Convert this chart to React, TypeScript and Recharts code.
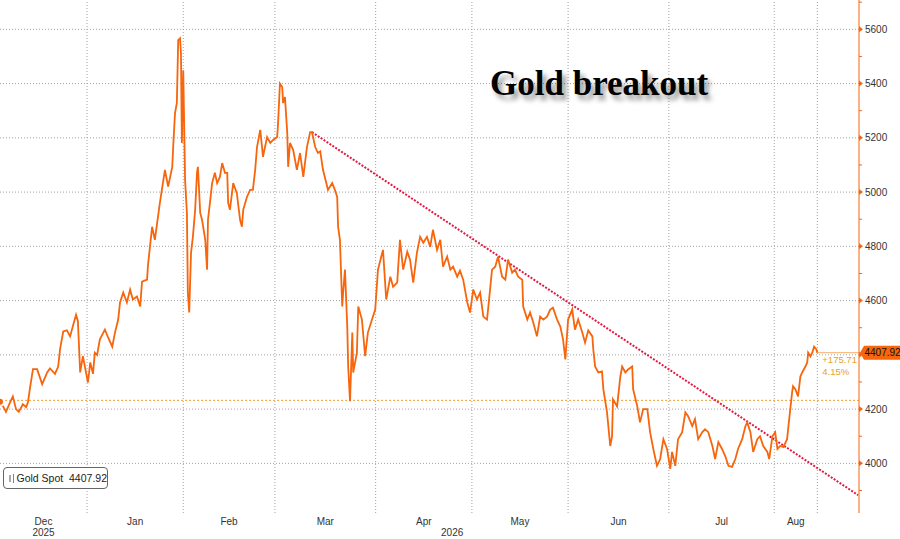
import { LineChart, Line, XAxis, YAxis, ReferenceLine } from "recharts";

// trading-day index from the first session shown (early Dec 2025)
const sessionDay = [
  0.0, 0.7, 1.3, 2.2, 2.8, 3.5, 4.1, 5.0, 5.7, 6.1, 6.6, 7.2, 8.1, 9.2, 10.3, 10.9, 12.0, 12.7, 13.1, 13.8,
  14.6, 15.3, 15.9, 16.6, 17.0, 17.5, 18.1, 18.6, 19.2, 19.7, 20.3, 20.7, 21.2, 21.8, 22.9, 23.6, 24.5, 25.1,
  25.8, 26.2, 26.9, 27.7, 28.4, 29.0, 29.9, 30.6, 31.0, 32.1, 32.3, 33.2, 33.8, 34.9, 36.0, 36.7, 37.6, 37.8,
  38.2, 38.6, 38.9, 39.3, 39.5, 39.7, 40.0, 40.4, 40.8, 41.0, 41.3, 41.7, 42.1, 42.6, 43.0, 43.2, 43.7, 44.1,
  44.8, 45.2, 45.4, 45.9, 46.3, 46.9, 47.4, 48.0, 48.5, 49.1, 49.6, 49.8, 50.2, 50.9, 51.7, 52.4, 52.8, 53.1,
  53.9, 54.6, 55.2, 55.7, 56.1, 56.8, 57.2, 57.4, 58.3, 59.0, 59.6, 60.5, 60.7, 61.1, 61.6, 61.8, 62.2, 62.7,
  62.9, 63.3, 64.0, 64.8, 65.5, 66.2, 67.0, 67.7, 68.1, 68.8, 69.4, 69.9, 70.5, 71.6, 72.5, 73.1, 73.6, 73.8,
  74.2, 74.7, 74.9, 75.3, 75.8, 76.0, 76.4, 76.9, 77.1, 77.9, 78.2, 79.0, 79.7, 80.3, 81.2, 81.9, 82.5, 83.6,
  84.3, 85.2, 85.8, 86.7, 87.3, 88.0, 88.9, 89.5, 90.2, 91.0, 91.7, 92.4, 93.2, 93.9, 94.5, 95.4, 96.1, 96.7,
  97.6, 98.3, 98.9, 99.8, 100.4, 101.1, 102.0, 102.6, 103.3, 104.1, 104.8, 105.5, 106.3, 106.6, 107.4, 108.1,
  108.7, 109.6, 110.3, 110.9, 111.8, 112.4, 113.1, 114.0, 114.2, 115.1, 115.7, 116.4, 117.2, 117.9, 118.6,
  119.4, 120.1, 120.7, 121.6, 122.3, 122.9, 123.4, 124.0, 124.9, 125.5, 126.2, 127.1, 127.7, 128.4, 129.3,
  129.5, 129.9, 130.6, 131.4, 131.7, 132.5, 133.2, 133.6, 133.8, 134.7, 135.4, 135.8, 136.5, 137.1, 138.0,
  138.2, 139.1, 139.7, 140.4, 141.3, 141.9, 142.6, 143.4, 144.1, 144.8, 145.6, 146.3, 146.7, 147.4, 148.0,
  148.9, 149.6, 150.2, 151.1, 151.7, 152.4, 153.3, 153.9, 154.6, 155.5, 156.1, 156.8, 157.6, 158.3, 159.0,
  159.8, 160.5, 161.1, 162.0, 162.7, 163.1, 163.8, 164.4, 165.3, 165.9, 166.6, 167.5, 167.9, 168.6, 169.2,
  169.7, 170.3, 171.0, 171.8, 172.1, 172.5, 172.9, 173.1, 173.6, 174.2, 174.7, 175.1, 175.8, 176.2, 176.4,
  176.9, 177.3, 177.7, 178.2, 178.4,
];

const goldSpot = [
  4227, 4210, 4190, 4225, 4247, 4200, 4190, 4218, 4207, 4225, 4284, 4347, 4347, 4292, 4335, 4350, 4330, 4357, 4420, 4486,
  4490, 4468, 4505, 4548, 4525, 4335, 4395, 4350, 4298, 4372, 4330, 4408, 4400, 4457, 4493, 4464, 4430, 4482,
  4530, 4593, 4630, 4593, 4641, 4604, 4615, 4578, 4670, 4677, 4730, 4872, 4824, 4960, 5082, 5020, 5093, 5166,
  5291, 5328, 5560, 5567, 5512, 5181, 5449, 5044, 4923, 4629, 4556, 4777, 4835, 4935, 5071, 5093, 4923, 4898,
  4824, 4714, 4898, 4971, 5033, 5071, 5033, 5056, 5107, 5071, 5071, 4960, 4935, 5033, 4996, 4898, 4872, 4935,
  4982, 5008, 5008, 5082, 5166, 5229, 5166, 5130, 5203, 5181, 5192, 5203, 5254, 5400, 5387, 5328, 5350, 5218,
  5093, 5181, 5155, 5082, 5144, 5056, 5166, 5221, 5221, 5166, 5144, 5150, 5082, 5008, 5033, 5008, 4982, 4872,
  4824, 4578, 4629, 4714, 4504, 4357, 4229, 4482, 4335, 4408, 4578, 4530, 4395, 4482, 4530, 4567, 4714, 4787,
  4604, 4688, 4651, 4666, 4824, 4714, 4780, 4751, 4666, 4776, 4835, 4813, 4835, 4798, 4861, 4787, 4824, 4725,
  4762, 4714, 4725, 4688, 4710, 4677, 4593, 4556, 4641, 4604, 4629, 4541, 4530, 4578, 4714, 4725,
  4762, 4688, 4677, 4751, 4703, 4714, 4688, 4677, 4578, 4530, 4556, 4519, 4468, 4541, 4530,
  4541, 4567, 4574, 4530, 4504, 4457, 4383, 4530, 4567, 4493, 4530, 4482, 4445, 4490, 4468,
  4420, 4357, 4335, 4339, 4273, 4188, 4064, 4100, 4236, 4210, 4320, 4357, 4335, 4346, 4357,
  4273, 4210, 4151, 4200, 4200, 4115, 4053, 3991, 4016, 4089, 4053, 3980, 4042, 3991, 4089,
  4115, 4188, 4174, 4137, 4163, 4089, 4115, 4126, 4115, 4064, 4016, 4078, 4053, 4027, 3991,
  3987, 4016, 4053, 4089, 4137, 4151, 4115, 4042, 4089, 4100, 4064, 4042, 4016, 4100, 4115,
  4053, 4064, 4060, 4089, 4137, 4200, 4262, 4284, 4273, 4247, 4320, 4335, 4357, 4372, 4408,
  4394, 4408, 4430, 4420, 4407.92,
];

const monthNames = ["Dec", "Jan", "Feb", "Mar", "Apr", "May", "Jun", "Jul", "Aug"];
const monthStartDay = [19, 40, 60, 82, 103, 124, 146, 169];
const priceTicks = [3900, 4000, 4100, 4200, 4300, 4400, 4500, 4600, 4700, 4800, 4900, 5000, 5100, 5200, 5300, 5400, 5500, 5600, 5700];
const gridPrices = [4000, 4200, 4400, 4600, 4800, 5000, 5200, 5400, 5600];

const lastDay = 178.4;
const lastPrice = 4407.92;
const basePrice = 4232.21;
const priceChange = 175.71;
const pctChange = 4.15;
const trendFrom = { day: 68.1, price: 5221 };
const trendTo = { day: 187.3, price: 3883 };

const X_MAX = 187.5;
const Y_MIN = 3817;
const Y_MAX = 5708;

const ORANGE = "#f7650c";
const GRID = "#a3a3a3";

const chartData = sessionDay.map((d, i) => ({ day: d, price: goldSpot[i] }));

const bounds = [0, ...monthStartDay, lastDay];
const monthMid = monthNames.map((_, i) => (bounds[i] + bounds[i + 1]) / 2);
const year2026Mid = (monthStartDay[0] + lastDay) / 2;
const xTicks = [...monthMid, year2026Mid];

// eslint-disable-next-line @typescript-eslint/no-explicit-any
function MonthTick({ x, y, index }: any) {
  const isYear = index >= monthNames.length;
  return (
    <g>
      {!isYear && (
        <text x={x} y={y + 12} textAnchor="middle" fontSize={10} fill="#333">
          {monthNames[index]}
        </text>
      )}
      {(isYear || index === 0) && (
        <text x={x} y={y + 23} textAnchor="middle" fontSize={10} fill="#333">
          {isYear ? "2026" : "2025"}
        </text>
      )}
    </g>
  );
}

// eslint-disable-next-line @typescript-eslint/no-explicit-any
function PriceTick({ x, y, payload }: any) {
  const major = payload.value % 200 === 0;
  if (!major) {
    return <line x1={x} x2={x + 3} y1={y} y2={y} stroke={ORANGE} strokeWidth={1} />;
  }
  // the last-price tag sits over this label
  const hidden = Math.abs(payload.value - lastPrice) < 40;
  return (
    <g>
      <polygon points={`${x},${y - 3} ${x + 4},${y} ${x},${y + 3}`} fill={ORANGE} />
      {!hidden && (
        <text x={x + 6} y={y + 3.5} fontSize={10} fill="#333">
          {payload.value}
        </text>
      )}
    </g>
  );
}

// eslint-disable-next-line @typescript-eslint/no-explicit-any
function LastPriceTag({ viewBox }: any) {
  const x0 = viewBox.x;
  const x1 = viewBox.x + viewBox.width;
  const y = viewBox.y;
  return (
    <g>
      <text x={x0 + 5} y={y + 10} fontSize={9.5} fill="#e8a030">
        +{priceChange}
      </text>
      <text x={x0 + 5} y={y + 22} fontSize={9.5} fill="#e8a030">
        {pctChange}%
      </text>
      <polygon
        points={`${x1 + 1},${y} ${x1 + 5},${y - 7} ${x1 + 41},${y - 7} ${x1 + 41},${y + 7} ${x1 + 5},${y + 7}`}
        fill={ORANGE}
      />
      <text x={x1 + 5.5} y={y + 3.5} fontSize={10} fill="#111">
        {lastPrice}
      </text>
    </g>
  );
}

export default function App() {
  return (
    <div
      style={{
        position: "relative",
        width: 900,
        height: 539,
        overflow: "hidden",
        background: "#fff",
        fontFamily: "'Liberation Sans', Arial, sans-serif",
      }}
    >
      <style>{"html,body{margin:0;padding:0;overflow:hidden;}"}</style>
      <LineChart width={900} height={539} data={chartData} margin={{ top: 0, right: 0, bottom: 0, left: 0 }}>
        <XAxis
          dataKey="day"
          type="number"
          domain={[0, X_MAX]}
          ticks={xTicks}
          interval={0}
          height={26}
          axisLine={false}
          tickLine={false}
          tickSize={0}
          tickMargin={0}
          tick={<MonthTick />}
        />
        <YAxis
          orientation="right"
          type="number"
          domain={[Y_MIN, Y_MAX]}
          ticks={priceTicks}
          interval={0}
          width={41}
          axisLine={{ stroke: ORANGE, strokeWidth: 1 }}
          tickLine={false}
          tickSize={0}
          tickMargin={0}
          tick={<PriceTick />}
        />
        {gridPrices.map((p) => (
          <ReferenceLine key={`h${p}`} y={p} stroke={GRID} strokeDasharray="1 2" />
        ))}
        {[...monthStartDay, lastDay].map((d) => (
          <ReferenceLine key={`v${d}`} x={d} stroke={GRID} strokeDasharray="1 2" />
        ))}
        <ReferenceLine y={basePrice} stroke="#f0a030" strokeDasharray="2 2" />
        <ReferenceLine
          segment={[
            { x: trendFrom.day, y: trendFrom.price },
            { x: trendTo.day, y: trendTo.price },
          ]}
          stroke="#e8173f"
          strokeWidth={2}
          strokeDasharray="2 1.5"
        />
        <ReferenceLine
          segment={[
            { x: lastDay, y: lastPrice },
            { x: X_MAX, y: lastPrice },
          ]}
          stroke="#f5b06a"
          label={<LastPriceTag />}
        />
        <Line
          type="linear"
          dataKey="price"
          stroke={ORANGE}
          strokeWidth={1.8}
          dot={false}
          isAnimationActive={false}
        />
      </LineChart>

      <div
        style={{
          position: "absolute",
          left: 490,
          top: 64,
          fontFamily: "'Liberation Serif', 'Times New Roman', serif",
          fontWeight: "bold",
          fontSize: 35,
          color: "#000",
          textShadow: "4px 5px 5px rgba(0,0,0,0.4)",
          whiteSpace: "nowrap",
        }}
      >
        Gold breakout
      </div>

      <div
        style={{
          position: "absolute",
          left: 3,
          top: 467,
          width: 103,
          height: 20,
          border: "1px solid #666",
          borderRadius: 4,
          background: "#fff",
          display: "flex",
          alignItems: "center",
          fontSize: 10.5,
          color: "#222",
        }}
      >
        <span
          style={{
            display: "inline-block",
            width: 5,
            height: 5,
            border: "1px solid #aaa",
            marginLeft: 5,
          }}
        />
        <span
          style={{
            display: "inline-block",
            width: 9,
            height: 9,
            background: "#f5620a",
            marginLeft: 2,
            marginRight: 3,
          }}
        />
        <span style={{ whiteSpace: "nowrap" }}>Gold Spot&nbsp;&nbsp;{lastPrice}</span>
      </div>
    </div>
  );
}
